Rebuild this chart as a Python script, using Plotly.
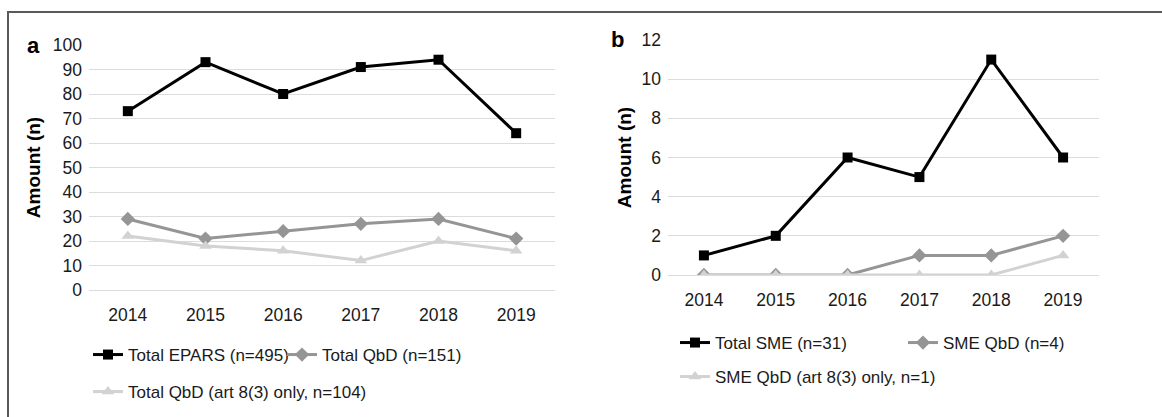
import plotly.graph_objects as go

# Years on the category axis
years = ["2014", "2015", "2016", "2017", "2018", "2019"]

# Panel a: all EPARs
total_epars = [73, 93, 80, 91, 94, 64]
total_qbd = [29, 21, 24, 27, 29, 21]
total_qbd_art83 = [22, 18, 16, 12, 20, 16]

# Panel b: SME applicants
total_sme = [1, 2, 6, 5, 11, 6]
sme_qbd = [0, 0, 0, 1, 1, 2]
sme_qbd_art83 = [0, 0, 0, 0, 0, 1]

W, H = 1162, 417
FONT = "Liberation Sans, Arial, sans-serif"
BLACK, MID, LIGHT = "#000000", "#959595", "#d2d2d2"


def fx(px):
    return px / W


def fy(px):
    return 1 - px / H


fig = go.Figure()


def add_series(x, y, name, color, symbol, size, xa, ya, legend):
    fig.add_trace(go.Scatter(
        x=x, y=y, name=name, mode="lines+markers",
        line=dict(color=color, width=3),
        marker=dict(symbol=symbol, size=size, color=color),
        xaxis=xa, yaxis=ya, legend=legend, hoverinfo="x+y+name",
    ))


add_series(years, total_epars, "Total EPARS (n=495)", BLACK, "square", 10, "x", "y", "legend")
add_series(years, total_qbd, "Total QbD (n=151)", MID, "diamond", 11, "x", "y", "legend")
add_series(years, total_qbd_art83, "Total QbD (art 8(3) only, n=104)", LIGHT, "triangle-up", 11, "x", "y", "legend2")

add_series(years, total_sme, "Total SME (n=31)", BLACK, "square", 10, "x2", "y2", "legend3")
add_series(years, sme_qbd, "SME QbD (n=4)", MID, "diamond", 11, "x2", "y2", "legend3")
add_series(years, sme_qbd_art83, "SME QbD (art 8(3) only, n=1)", LIGHT, "triangle-up", 11, "x2", "y2", "legend4")

tick_font = dict(family=FONT, size=17.5, color="#1a1a1a")
title_font = dict(family=FONT, size=19, color="#000000")

xcommon = dict(type="category", range=[-0.5, 5.5], showgrid=False, zeroline=False,
               showline=False, ticks="", tickfont=tick_font, ticklabelstandoff=12,
               fixedrange=True)
ycommon = dict(showgrid=True, gridcolor="#dcdcdc", gridwidth=1, zeroline=True,
               zerolinecolor="#dcdcdc", zerolinewidth=1, showline=False, ticks="",
               tickfont=tick_font, ticklabelstandoff=6, fixedrange=True)

legend_common = dict(orientation="h", xanchor="left", yanchor="middle",
                     font=dict(family=FONT, size=17, color="#1a1a1a"),
                     bgcolor="rgba(0,0,0,0)", borderwidth=0, itemclick=False,
                     itemdoubleclick=False, entrywidthmode="pixels")

fig.update_layout(
    width=W, height=H,
    margin=dict(l=0, r=0, t=0, b=0, autoexpand=False),
    paper_bgcolor="white", plot_bgcolor="white",
    font=dict(family=FONT),
    xaxis=dict(domain=[fx(89), fx(555)], anchor="y", **xcommon),
    yaxis=dict(domain=[fy(290), fy(45)], anchor="x", range=[0, 100], dtick=10,
               title=dict(text="<b>Amount (n)</b>", font=title_font, standoff=7),
               **ycommon),
    xaxis2=dict(domain=[fx(668), fx(1099)], anchor="y2", **xcommon),
    yaxis2=dict(domain=[fy(275), fy(40)], anchor="x2", range=[0, 12], dtick=2,
                title=dict(text="<b>Amount (n)</b>", font=title_font, standoff=4),
                **ycommon),
    legend=dict(x=fx(88), y=fy(355), entrywidth=149, **legend_common),
    legend2=dict(x=fx(88), y=fy(392), **legend_common),
    legend3=dict(x=fx(675), y=fy(343), entrywidth=183, **legend_common),
    legend4=dict(x=fx(675), y=fy(377), **legend_common),
    showlegend=True,
)

# Panel letters
for letter, xp, yp in [("a", 33, 45), ("b", 617, 40)]:
    fig.add_annotation(text=f"<b>{letter}</b>", x=fx(xp), y=fy(yp), xref="paper", yref="paper",
                       showarrow=False, xanchor="center", yanchor="middle",
                       font=dict(family=FONT, size=22, color="#000000"))

# Frame around the figure
fig.add_shape(type="rect", xref="paper", yref="paper",
              x0=fx(8), y0=fy(12), x1=1.05, y1=-0.1,
              line=dict(color="#595959", width=2), fillcolor="rgba(0,0,0,0)", layer="below")

fig.write_html("out.html")
